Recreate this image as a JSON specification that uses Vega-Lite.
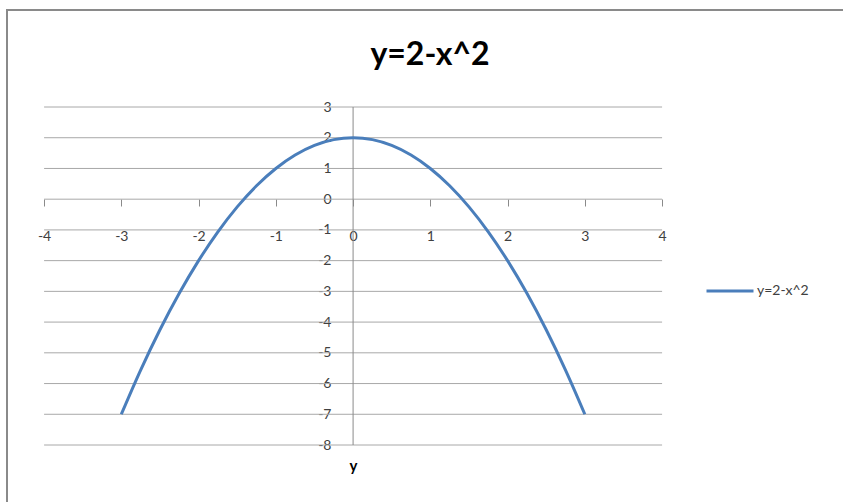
{
  "$schema": "https://vega.github.io/schema/vega-lite/v6.json",
  "width": 836,
  "height": 492,
  "autosize": "none",
  "padding": {"left": 7, "top": 10, "right": 0, "bottom": 0},
  "background": "white",
  "config": {
    "view": {"stroke": "#8a8a8a", "strokeWidth": 2, "strokeDash": [836, 1328, 492]},
    "font": "Lato"
  },
  "title": {
    "text": "y=2-x^2",
    "font": "Lato",
    "fontSize": 32,
    "fontWeight": "bold",
    "color": "#000000",
    "anchor": "middle",
    "frame": "group",
    "orient": "top",
    "offset": -62,
    "dx": 5
  },
  "datasets": {
    "grid": [
      {"g": 3}, {"g": 2}, {"g": 1}, {"g": 0}, {"g": -1}, {"g": -2},
      {"g": -3}, {"g": -4}, {"g": -5}, {"g": -6}, {"g": -7}, {"g": -8}
    ],
    "curve": [
      {"x": -3, "y": -7, "s": "y=2-x^2"},
      {"x": -2.75, "y": -5.5625, "s": "y=2-x^2"},
      {"x": -2.5, "y": -4.25, "s": "y=2-x^2"},
      {"x": -2.25, "y": -3.0625, "s": "y=2-x^2"},
      {"x": -2, "y": -2, "s": "y=2-x^2"},
      {"x": -1.75, "y": -1.0625, "s": "y=2-x^2"},
      {"x": -1.5, "y": -0.25, "s": "y=2-x^2"},
      {"x": -1.25, "y": 0.4375, "s": "y=2-x^2"},
      {"x": -1, "y": 1, "s": "y=2-x^2"},
      {"x": -0.75, "y": 1.4375, "s": "y=2-x^2"},
      {"x": -0.5, "y": 1.75, "s": "y=2-x^2"},
      {"x": -0.25, "y": 1.9375, "s": "y=2-x^2"},
      {"x": 0, "y": 2, "s": "y=2-x^2"},
      {"x": 0.25, "y": 1.9375, "s": "y=2-x^2"},
      {"x": 0.5, "y": 1.75, "s": "y=2-x^2"},
      {"x": 0.75, "y": 1.4375, "s": "y=2-x^2"},
      {"x": 1, "y": 1, "s": "y=2-x^2"},
      {"x": 1.25, "y": 0.4375, "s": "y=2-x^2"},
      {"x": 1.5, "y": -0.25, "s": "y=2-x^2"},
      {"x": 1.75, "y": -1.0625, "s": "y=2-x^2"},
      {"x": 2, "y": -2, "s": "y=2-x^2"},
      {"x": 2.25, "y": -3.0625, "s": "y=2-x^2"},
      {"x": 2.5, "y": -4.25, "s": "y=2-x^2"},
      {"x": 2.75, "y": -5.5625, "s": "y=2-x^2"},
      {"x": 3, "y": -7, "s": "y=2-x^2"}
    ]
  },
  "layer": [
    {
      "data": {"name": "grid"},
      "mark": {"type": "rule", "color": "#a8a8a8", "strokeWidth": 1},
      "encoding": {
        "x": {"datum": -4, "type": "quantitative"},
        "x2": {"datum": 4},
        "y": {"field": "g", "type": "quantitative"}
      }
    },
    {
      "data": {"values": [{}]},
      "mark": {"type": "rule", "color": "#8a8a8a", "strokeWidth": 1},
      "encoding": {
        "x": {"datum": 0, "type": "quantitative"},
        "y": {"datum": 3, "type": "quantitative"},
        "y2": {"datum": -8}
      }
    },
    {
      "data": {"name": "curve"},
      "mark": {"type": "line", "strokeWidth": 3, "interpolate": "monotone"},
      "encoding": {
        "x": {
          "field": "x",
          "type": "quantitative",
          "scale": {"domain": [-4.48, 6.342], "nice": false, "zero": false},
          "axis": {
            "orient": "bottom",
            "offset": -303,
            "values": [-4, -3, -2, -1, 0, 1, 2, 3, 4],
            "labelExpr": "toString(datum.value)",
            "domain": false,
            "grid": false,
            "ticks": true,
            "tickSize": 7,
            "tickColor": "#8a8a8a",
            "labelPadding": 23,
            "labelFont": "Lato",
            "labelFontSize": 14,
            "labelColor": "#404040",
            "title": null
          }
        },
        "y": {
          "field": "y",
          "type": "quantitative",
          "scale": {"domain": [-9.855, 6.157], "nice": false, "zero": false},
          "axis": {
            "orient": "left",
            "offset": -346,
            "values": [3, 2, 1, 0, -1, -2, -3, -4, -5, -6, -7, -8],
            "labelExpr": "toString(datum.value)",
            "domain": false,
            "grid": false,
            "ticks": false,
            "tickSize": 0,
            "labelPadding": 22,
            "labelFont": "Lato",
            "labelFontSize": 14,
            "labelColor": "#404040",
            "title": "y",
            "titleAngle": 0,
            "titleFont": "Lato",
            "titleFontSize": 15,
            "titleFontWeight": "bold",
            "titleColor": "#000000",
            "titleAlign": "center",
            "titleBaseline": "alphabetic",
            "titleX": 0,
            "titleY": 460
          }
        },
        "color": {
          "field": "s",
          "type": "nominal",
          "scale": {"range": ["#4a7ebb"]},
          "legend": {
            "orient": "none",
            "legendX": 698,
            "legendY": 256,
            "title": null,
            "symbolType": "stroke",
            "symbolSize": 2209,
            "symbolStrokeWidth": 3,
            "labelFont": "Lato",
            "labelFontSize": 14,
            "labelColor": "#404040",
            "labelOffset": 2
          }
        }
      }
    }
  ]
}
